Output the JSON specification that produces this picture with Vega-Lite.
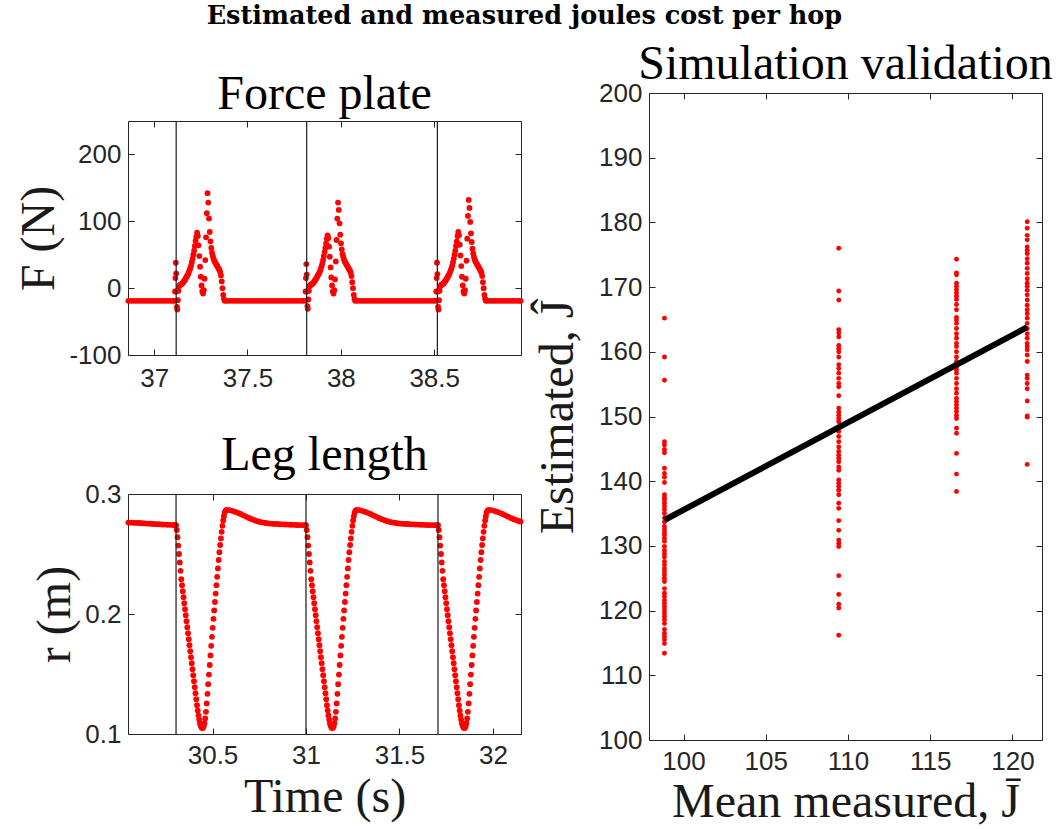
{
"$schema": "https://vega.github.io/schema/vega-lite/v6.json",
"background": "white",
"padding": {"left": 15, "top": 3, "right": 4, "bottom": 0},
"title": {"text": "Estimated and measured joules cost per hop", "font": "DejaVu Serif", "fontSize": 25.5, "fontWeight": "bold", "anchor": "middle", "color": "#000000", "offset": 10, "dx": -10},
"config": {
 "view": {"stroke": "#262626", "strokeWidth": 1},
 "axis": {"grid": false, "domain": false, "labelFont": "Liberation Sans", "labelFontSize": 26, "labelColor": "#262626", "tickColor": "#262626", "tickSize": -6, "tickWidth": 1, "titleFont": "Liberation Serif", "titleFontSize": 48, "titleFontWeight": "normal", "titleColor": "#1a1a1a", "labelExpr": "'' + datum.value"},
 "axisX": {"labelPadding": 16, "titlePadding": 2},
 "axisY": {"labelPadding": 13, "titlePadding": 5},
 "title": {"font": "Liberation Serif", "fontSize": 48, "fontWeight": "normal", "color": "#000000", "anchor": "middle", "offset": 1}
},
"datasets": {
 "spacer": [{"s": 0}],
 "forceContacts": [{"t": 37.118}, {"t": 37.817}, {"t": 38.517}],
 "legContacts": [{"t": 30.305}, {"t": 31.0}, {"t": 31.706}],
 "fit": [{"m": 98.84, "e": 134.0}, {"m": 120.9, "e": 163.8}],
 "force": [
{"t":36.862,"F":-19},{"t":36.877,"F":-19},{"t":36.892,"F":-19},{"t":36.907,"F":-19},{"t":36.922,"F":-19},{"t":36.937,"F":-19},{"t":36.952,"F":-19},{"t":36.967,"F":-19},{"t":36.982,"F":-19},{"t":36.997,"F":-19},{"t":37.012,"F":-19},{"t":37.027,"F":-19},{"t":37.042,"F":-19},{"t":37.057,"F":-19},{"t":37.072,"F":-19},{"t":37.087,"F":-19},{"t":37.100,"F":-19},{"t":37.108,"F":-19},
{"t":37.112,"F":-5},{"t":37.114,"F":15},{"t":37.116,"F":38},{"t":37.118,"F":22},{"t":37.120,"F":-5},{"t":37.122,"F":-28},{"t":37.124,"F":-32},{"t":37.127,"F":-18},{"t":37.130,"F":-4},{"t":37.134,"F":3},{"t":37.138,"F":5},{"t":37.142,"F":5},{"t":37.146,"F":6},{"t":37.150,"F":7},{"t":37.154,"F":8},{"t":37.158,"F":10},{"t":37.162,"F":11},{"t":37.166,"F":13},{"t":37.170,"F":15},{"t":37.174,"F":17},{"t":37.178,"F":19},{"t":37.182,"F":21},{"t":37.186,"F":24},{"t":37.190,"F":27},{"t":37.194,"F":30},{"t":37.198,"F":34},{"t":37.202,"F":39},{"t":37.206,"F":44},{"t":37.210,"F":50},{"t":37.214,"F":56},{"t":37.218,"F":63},{"t":37.222,"F":71},{"t":37.226,"F":77},{"t":37.230,"F":83},{"t":37.234,"F":78},{"t":37.238,"F":64},{"t":37.242,"F":48},{"t":37.246,"F":32},{"t":37.250,"F":17},{"t":37.254,"F":4},{"t":37.258,"F":-5},{"t":37.262,"F":-8},{"t":37.266,"F":-3},{"t":37.270,"F":14},{"t":37.274,"F":42},{"t":37.278,"F":76},{"t":37.282,"F":112},{"t":37.286,"F":142},{"t":37.290,"F":128},{"t":37.294,"F":104},{"t":37.298,"F":84},{"t":37.302,"F":70},{"t":37.306,"F":60},{"t":37.310,"F":53},{"t":37.314,"F":48},{"t":37.318,"F":44},{"t":37.322,"F":41},{"t":37.326,"F":39},{"t":37.330,"F":37},{"t":37.334,"F":35},{"t":37.338,"F":33},{"t":37.342,"F":31},{"t":37.346,"F":29},{"t":37.350,"F":27},{"t":37.354,"F":24},{"t":37.358,"F":19},{"t":37.362,"F":10},{"t":37.366,"F":0},{"t":37.370,"F":-10},{"t":37.374,"F":-16},{"t":37.378,"F":-19},
{"t":37.390,"F":-19},{"t":37.405,"F":-19},{"t":37.420,"F":-19},{"t":37.435,"F":-19},{"t":37.450,"F":-19},{"t":37.465,"F":-19},{"t":37.480,"F":-19},{"t":37.495,"F":-19},{"t":37.510,"F":-19},{"t":37.525,"F":-19},{"t":37.540,"F":-19},{"t":37.555,"F":-19},{"t":37.570,"F":-19},{"t":37.585,"F":-19},{"t":37.600,"F":-19},{"t":37.615,"F":-19},{"t":37.630,"F":-19},{"t":37.645,"F":-19},{"t":37.660,"F":-19},{"t":37.675,"F":-19},{"t":37.690,"F":-19},{"t":37.705,"F":-19},{"t":37.720,"F":-19},{"t":37.735,"F":-19},{"t":37.750,"F":-19},{"t":37.765,"F":-19},{"t":37.780,"F":-19},{"t":37.795,"F":-19},{"t":37.807,"F":-19},
{"t":37.811,"F":-5},{"t":37.813,"F":15},{"t":37.815,"F":36},{"t":37.817,"F":20},{"t":37.819,"F":-5},{"t":37.821,"F":-27},{"t":37.823,"F":-31},{"t":37.826,"F":-17},{"t":37.829,"F":-4},{"t":37.833,"F":3},{"t":37.837,"F":5},{"t":37.841,"F":5},{"t":37.845,"F":6},{"t":37.849,"F":7},{"t":37.853,"F":8},{"t":37.857,"F":10},{"t":37.861,"F":11},{"t":37.865,"F":13},{"t":37.869,"F":15},{"t":37.873,"F":17},{"t":37.877,"F":19},{"t":37.881,"F":21},{"t":37.885,"F":23},{"t":37.889,"F":26},{"t":37.893,"F":29},{"t":37.897,"F":33},{"t":37.901,"F":37},{"t":37.905,"F":42},{"t":37.909,"F":48},{"t":37.913,"F":54},{"t":37.917,"F":60},{"t":37.921,"F":67},{"t":37.925,"F":74},{"t":37.929,"F":79},{"t":37.933,"F":75},{"t":37.937,"F":62},{"t":37.941,"F":47},{"t":37.945,"F":31},{"t":37.949,"F":16},{"t":37.953,"F":4},{"t":37.957,"F":-5},{"t":37.961,"F":-8},{"t":37.965,"F":-3},{"t":37.969,"F":13},{"t":37.973,"F":40},{"t":37.977,"F":72},{"t":37.981,"F":104},{"t":37.985,"F":128},{"t":37.989,"F":117},{"t":37.993,"F":97},{"t":37.997,"F":80},{"t":38.001,"F":67},{"t":38.005,"F":58},{"t":38.009,"F":51},{"t":38.013,"F":47},{"t":38.017,"F":43},{"t":38.021,"F":40},{"t":38.025,"F":38},{"t":38.029,"F":36},{"t":38.033,"F":34},{"t":38.037,"F":32},{"t":38.041,"F":30},{"t":38.045,"F":28},{"t":38.049,"F":26},{"t":38.053,"F":23},{"t":38.057,"F":18},{"t":38.061,"F":9},{"t":38.065,"F":0},{"t":38.069,"F":-10},{"t":38.073,"F":-16},{"t":38.077,"F":-19},
{"t":38.090,"F":-19},{"t":38.105,"F":-19},{"t":38.120,"F":-19},{"t":38.135,"F":-19},{"t":38.150,"F":-19},{"t":38.165,"F":-19},{"t":38.180,"F":-19},{"t":38.195,"F":-19},{"t":38.210,"F":-19},{"t":38.225,"F":-19},{"t":38.240,"F":-19},{"t":38.255,"F":-19},{"t":38.270,"F":-19},{"t":38.285,"F":-19},{"t":38.300,"F":-19},{"t":38.315,"F":-19},{"t":38.330,"F":-19},{"t":38.345,"F":-19},{"t":38.360,"F":-19},{"t":38.375,"F":-19},{"t":38.390,"F":-19},{"t":38.405,"F":-19},{"t":38.420,"F":-19},{"t":38.435,"F":-19},{"t":38.450,"F":-19},{"t":38.465,"F":-19},{"t":38.480,"F":-19},{"t":38.495,"F":-19},{"t":38.507,"F":-19},
{"t":38.511,"F":-5},{"t":38.513,"F":15},{"t":38.515,"F":38},{"t":38.517,"F":21},{"t":38.519,"F":-5},{"t":38.521,"F":-28},{"t":38.523,"F":-32},{"t":38.526,"F":-18},{"t":38.529,"F":-4},{"t":38.533,"F":3},{"t":38.537,"F":5},{"t":38.541,"F":5},{"t":38.545,"F":6},{"t":38.549,"F":7},{"t":38.553,"F":8},{"t":38.557,"F":10},{"t":38.561,"F":11},{"t":38.565,"F":13},{"t":38.569,"F":15},{"t":38.573,"F":17},{"t":38.577,"F":19},{"t":38.581,"F":21},{"t":38.585,"F":24},{"t":38.589,"F":27},{"t":38.593,"F":30},{"t":38.597,"F":34},{"t":38.601,"F":39},{"t":38.605,"F":44},{"t":38.609,"F":50},{"t":38.613,"F":56},{"t":38.617,"F":63},{"t":38.621,"F":70},{"t":38.625,"F":78},{"t":38.629,"F":84},{"t":38.633,"F":79},{"t":38.637,"F":65},{"t":38.641,"F":49},{"t":38.645,"F":33},{"t":38.649,"F":17},{"t":38.653,"F":4},{"t":38.657,"F":-5},{"t":38.661,"F":-8},{"t":38.665,"F":-3},{"t":38.669,"F":14},{"t":38.673,"F":41},{"t":38.677,"F":74},{"t":38.681,"F":108},{"t":38.685,"F":132},{"t":38.689,"F":120},{"t":38.693,"F":99},{"t":38.697,"F":82},{"t":38.701,"F":69},{"t":38.705,"F":59},{"t":38.709,"F":52},{"t":38.713,"F":47},{"t":38.717,"F":43},{"t":38.721,"F":40},{"t":38.725,"F":38},{"t":38.729,"F":36},{"t":38.733,"F":34},{"t":38.737,"F":32},{"t":38.741,"F":30},{"t":38.745,"F":28},{"t":38.749,"F":26},{"t":38.753,"F":23},{"t":38.757,"F":18},{"t":38.761,"F":9},{"t":38.765,"F":0},{"t":38.769,"F":-10},{"t":38.773,"F":-16},{"t":38.777,"F":-19},
{"t":38.790,"F":-19},{"t":38.805,"F":-19},{"t":38.820,"F":-19},{"t":38.835,"F":-19},{"t":38.850,"F":-19},{"t":38.865,"F":-19},{"t":38.880,"F":-19},{"t":38.895,"F":-19},{"t":38.910,"F":-19},{"t":38.925,"F":-19},{"t":38.940,"F":-19},{"t":38.955,"F":-19},{"t":38.963,"F":-19}
 ],
 "leg": [
{"t":30.050,"r":0.2762},{"t":30.065,"r":0.2761},{"t":30.080,"r":0.2760},{"t":30.095,"r":0.2759},{"t":30.110,"r":0.2758},{"t":30.125,"r":0.2756},{"t":30.140,"r":0.2755},{"t":30.155,"r":0.2753},{"t":30.170,"r":0.2752},{"t":30.185,"r":0.2750},{"t":30.200,"r":0.2749},{"t":30.215,"r":0.2748},{"t":30.230,"r":0.2746},{"t":30.245,"r":0.2745},{"t":30.260,"r":0.2744},{"t":30.275,"r":0.2743},{"t":30.290,"r":0.2742},{"t":30.300,"r":0.2741},
{"t":30.305,"r":0.2740},{"t":30.309,"r":0.2700},{"t":30.313,"r":0.2640},{"t":30.317,"r":0.2570},{"t":30.321,"r":0.2500},{"t":30.325,"r":0.2430},{"t":30.329,"r":0.2360},{"t":30.333,"r":0.2290},{"t":30.337,"r":0.2240},{"t":30.341,"r":0.2190},{"t":30.345,"r":0.2140},{"t":30.349,"r":0.2090},{"t":30.353,"r":0.2040},{"t":30.357,"r":0.1990},{"t":30.361,"r":0.1940},{"t":30.365,"r":0.1890},{"t":30.369,"r":0.1840},{"t":30.373,"r":0.1790},{"t":30.377,"r":0.1740},{"t":30.381,"r":0.1690},{"t":30.385,"r":0.1640},{"t":30.389,"r":0.1590},{"t":30.393,"r":0.1540},{"t":30.397,"r":0.1490},{"t":30.401,"r":0.1440},{"t":30.405,"r":0.1390},{"t":30.409,"r":0.1340},{"t":30.413,"r":0.1290},{"t":30.417,"r":0.1240},{"t":30.421,"r":0.1195},{"t":30.425,"r":0.1155},{"t":30.429,"r":0.1120},{"t":30.433,"r":0.1090},{"t":30.437,"r":0.1070},{"t":30.441,"r":0.1055},{"t":30.445,"r":0.1050},{"t":30.449,"r":0.1052},{"t":30.453,"r":0.1065},{"t":30.457,"r":0.1090},{"t":30.461,"r":0.1130},{"t":30.465,"r":0.1185},{"t":30.469,"r":0.1255},{"t":30.473,"r":0.1335},{"t":30.477,"r":0.1415},{"t":30.481,"r":0.1495},{"t":30.485,"r":0.1575},{"t":30.489,"r":0.1655},{"t":30.493,"r":0.1735},{"t":30.497,"r":0.1810},{"t":30.501,"r":0.1885},{"t":30.505,"r":0.1960},{"t":30.509,"r":0.2030},{"t":30.513,"r":0.2100},{"t":30.517,"r":0.2170},{"t":30.521,"r":0.2240},{"t":30.525,"r":0.2310},{"t":30.529,"r":0.2380},{"t":30.533,"r":0.2450},{"t":30.537,"r":0.2515},{"t":30.541,"r":0.2575},{"t":30.545,"r":0.2630},{"t":30.549,"r":0.2685},{"t":30.553,"r":0.2735},{"t":30.557,"r":0.2780},{"t":30.561,"r":0.2815},{"t":30.565,"r":0.2845},{"t":30.570,"r":0.2862},{"t":30.575,"r":0.2868},
{"t":30.590,"r":0.2866},{"t":30.605,"r":0.2860},{"t":30.620,"r":0.2852},{"t":30.635,"r":0.2843},{"t":30.650,"r":0.2833},{"t":30.665,"r":0.2822},{"t":30.680,"r":0.2811},{"t":30.695,"r":0.2800},{"t":30.710,"r":0.2790},{"t":30.725,"r":0.2781},{"t":30.740,"r":0.2773},{"t":30.755,"r":0.2767},{"t":30.770,"r":0.2762},{"t":30.785,"r":0.2758},{"t":30.800,"r":0.2755},{"t":30.815,"r":0.2753},{"t":30.830,"r":0.2751},{"t":30.845,"r":0.2750},{"t":30.860,"r":0.2748},{"t":30.875,"r":0.2747},{"t":30.890,"r":0.2746},{"t":30.905,"r":0.2745},{"t":30.920,"r":0.2744},{"t":30.935,"r":0.2743},{"t":30.950,"r":0.2742},{"t":30.965,"r":0.2741},{"t":30.980,"r":0.2741},{"t":30.995,"r":0.2740},
{"t":31.000,"r":0.2740},{"t":31.004,"r":0.2700},{"t":31.008,"r":0.2640},{"t":31.012,"r":0.2570},{"t":31.016,"r":0.2500},{"t":31.020,"r":0.2430},{"t":31.024,"r":0.2360},{"t":31.028,"r":0.2290},{"t":31.032,"r":0.2240},{"t":31.036,"r":0.2190},{"t":31.040,"r":0.2140},{"t":31.044,"r":0.2090},{"t":31.048,"r":0.2040},{"t":31.052,"r":0.1990},{"t":31.056,"r":0.1940},{"t":31.060,"r":0.1890},{"t":31.064,"r":0.1840},{"t":31.068,"r":0.1790},{"t":31.072,"r":0.1740},{"t":31.076,"r":0.1690},{"t":31.080,"r":0.1640},{"t":31.084,"r":0.1590},{"t":31.088,"r":0.1540},{"t":31.092,"r":0.1490},{"t":31.096,"r":0.1440},{"t":31.100,"r":0.1390},{"t":31.104,"r":0.1340},{"t":31.108,"r":0.1290},{"t":31.112,"r":0.1240},{"t":31.116,"r":0.1195},{"t":31.120,"r":0.1155},{"t":31.124,"r":0.1120},{"t":31.128,"r":0.1090},{"t":31.132,"r":0.1070},{"t":31.136,"r":0.1055},{"t":31.140,"r":0.1050},{"t":31.144,"r":0.1052},{"t":31.148,"r":0.1065},{"t":31.152,"r":0.1090},{"t":31.156,"r":0.1130},{"t":31.160,"r":0.1185},{"t":31.164,"r":0.1255},{"t":31.168,"r":0.1335},{"t":31.172,"r":0.1415},{"t":31.176,"r":0.1495},{"t":31.180,"r":0.1575},{"t":31.184,"r":0.1655},{"t":31.188,"r":0.1735},{"t":31.192,"r":0.1810},{"t":31.196,"r":0.1885},{"t":31.200,"r":0.1960},{"t":31.204,"r":0.2030},{"t":31.208,"r":0.2100},{"t":31.212,"r":0.2170},{"t":31.216,"r":0.2240},{"t":31.220,"r":0.2310},{"t":31.224,"r":0.2380},{"t":31.228,"r":0.2450},{"t":31.232,"r":0.2515},{"t":31.236,"r":0.2575},{"t":31.240,"r":0.2630},{"t":31.244,"r":0.2685},{"t":31.248,"r":0.2735},{"t":31.252,"r":0.2780},{"t":31.256,"r":0.2815},{"t":31.260,"r":0.2845},{"t":31.265,"r":0.2862},{"t":31.270,"r":0.2868},
{"t":31.285,"r":0.2866},{"t":31.300,"r":0.2860},{"t":31.315,"r":0.2852},{"t":31.330,"r":0.2843},{"t":31.345,"r":0.2833},{"t":31.360,"r":0.2822},{"t":31.375,"r":0.2811},{"t":31.390,"r":0.2800},{"t":31.405,"r":0.2790},{"t":31.420,"r":0.2781},{"t":31.435,"r":0.2773},{"t":31.450,"r":0.2767},{"t":31.465,"r":0.2762},{"t":31.480,"r":0.2758},{"t":31.495,"r":0.2755},{"t":31.510,"r":0.2753},{"t":31.525,"r":0.2751},{"t":31.540,"r":0.2750},{"t":31.555,"r":0.2748},{"t":31.570,"r":0.2747},{"t":31.585,"r":0.2746},{"t":31.600,"r":0.2745},{"t":31.615,"r":0.2744},{"t":31.630,"r":0.2743},{"t":31.645,"r":0.2742},{"t":31.660,"r":0.2741},{"t":31.675,"r":0.2741},{"t":31.690,"r":0.2740},{"t":31.702,"r":0.2740},
{"t":31.706,"r":0.2740},{"t":31.710,"r":0.2700},{"t":31.714,"r":0.2640},{"t":31.718,"r":0.2570},{"t":31.722,"r":0.2500},{"t":31.726,"r":0.2430},{"t":31.730,"r":0.2360},{"t":31.734,"r":0.2290},{"t":31.738,"r":0.2240},{"t":31.742,"r":0.2190},{"t":31.746,"r":0.2140},{"t":31.750,"r":0.2090},{"t":31.754,"r":0.2040},{"t":31.758,"r":0.1990},{"t":31.762,"r":0.1940},{"t":31.766,"r":0.1890},{"t":31.770,"r":0.1840},{"t":31.774,"r":0.1790},{"t":31.778,"r":0.1740},{"t":31.782,"r":0.1690},{"t":31.786,"r":0.1640},{"t":31.790,"r":0.1590},{"t":31.794,"r":0.1540},{"t":31.798,"r":0.1490},{"t":31.802,"r":0.1440},{"t":31.806,"r":0.1390},{"t":31.810,"r":0.1340},{"t":31.814,"r":0.1290},{"t":31.818,"r":0.1240},{"t":31.822,"r":0.1195},{"t":31.826,"r":0.1155},{"t":31.830,"r":0.1120},{"t":31.834,"r":0.1090},{"t":31.838,"r":0.1070},{"t":31.842,"r":0.1055},{"t":31.846,"r":0.1050},{"t":31.850,"r":0.1052},{"t":31.854,"r":0.1065},{"t":31.858,"r":0.1090},{"t":31.862,"r":0.1130},{"t":31.866,"r":0.1185},{"t":31.870,"r":0.1255},{"t":31.874,"r":0.1335},{"t":31.878,"r":0.1415},{"t":31.882,"r":0.1495},{"t":31.886,"r":0.1575},{"t":31.890,"r":0.1655},{"t":31.894,"r":0.1735},{"t":31.898,"r":0.1810},{"t":31.902,"r":0.1885},{"t":31.906,"r":0.1960},{"t":31.910,"r":0.2030},{"t":31.914,"r":0.2100},{"t":31.918,"r":0.2170},{"t":31.922,"r":0.2240},{"t":31.926,"r":0.2310},{"t":31.930,"r":0.2380},{"t":31.934,"r":0.2450},{"t":31.938,"r":0.2515},{"t":31.942,"r":0.2575},{"t":31.946,"r":0.2630},{"t":31.950,"r":0.2685},{"t":31.954,"r":0.2735},{"t":31.958,"r":0.2780},{"t":31.962,"r":0.2815},{"t":31.966,"r":0.2845},{"t":31.971,"r":0.2862},{"t":31.976,"r":0.2868},
{"t":31.991,"r":0.2866},{"t":32.006,"r":0.2860},{"t":32.021,"r":0.2852},{"t":32.036,"r":0.2843},{"t":32.051,"r":0.2833},{"t":32.066,"r":0.2822},{"t":32.081,"r":0.2811},{"t":32.096,"r":0.2800},{"t":32.111,"r":0.2790},{"t":32.126,"r":0.2781},{"t":32.141,"r":0.2773},{"t":32.148,"r":0.2770}
 ],
 "sim": [
{"m":98.84,"e":165.2},{"m":98.84,"e":159.2},{"m":98.84,"e":155.6},{"m":98.84,"e":146.1},{"m":98.84,"e":145.6},{"m":98.84,"e":144.9},{"m":98.84,"e":144.4},{"m":98.84,"e":142.0},{"m":98.84,"e":141.2},{"m":98.84,"e":140.6},{"m":98.84,"e":139.8},{"m":98.84,"e":137.9},{"m":98.84,"e":137.5},{"m":98.84,"e":137.1},{"m":98.84,"e":136.6},{"m":98.84,"e":136.1},{"m":98.84,"e":135.6},{"m":98.84,"e":135.0},{"m":98.84,"e":134.3},{"m":98.84,"e":133.7},{"m":98.84,"e":133.0},{"m":98.84,"e":132.5},{"m":98.84,"e":132.0},{"m":98.84,"e":131.7},{"m":98.84,"e":131.2},{"m":98.84,"e":130.7},{"m":98.84,"e":129.9},{"m":98.84,"e":129.3},{"m":98.84,"e":128.8},{"m":98.84,"e":128.3},{"m":98.84,"e":127.6},{"m":98.84,"e":127.1},{"m":98.84,"e":126.5},{"m":98.84,"e":126.0},{"m":98.84,"e":125.5},{"m":98.84,"e":125.0},{"m":98.84,"e":124.5},{"m":98.84,"e":123.4},{"m":98.84,"e":122.7},{"m":98.84,"e":122.2},{"m":98.84,"e":121.6},{"m":98.84,"e":121.1},{"m":98.84,"e":120.6},{"m":98.84,"e":120.1},{"m":98.84,"e":119.6},{"m":98.84,"e":119.1},{"m":98.84,"e":118.6},{"m":98.84,"e":118.0},{"m":98.84,"e":117.1},{"m":98.84,"e":116.5},{"m":98.84,"e":116.0},{"m":98.84,"e":115.5},{"m":98.84,"e":114.9},{"m":98.84,"e":113.4},
{"m":109.44,"e":176.0},{"m":109.44,"e":169.4},{"m":109.44,"e":168.0},{"m":109.44,"e":163.4},{"m":109.44,"e":162.9},{"m":109.44,"e":162.3},{"m":109.44,"e":161.0},{"m":109.44,"e":160.5},{"m":109.44,"e":160.0},{"m":109.44,"e":159.2},{"m":109.44,"e":158.0},{"m":109.44,"e":157.4},{"m":109.44,"e":156.7},{"m":109.44,"e":155.9},{"m":109.44,"e":155.1},{"m":109.44,"e":154.6},{"m":109.44,"e":153.2},{"m":109.44,"e":151.3},{"m":109.44,"e":150.7},{"m":109.44,"e":150.2},{"m":109.44,"e":149.7},{"m":109.44,"e":149.2},{"m":109.44,"e":148.4},{"m":109.44,"e":147.7},{"m":109.44,"e":146.9},{"m":109.44,"e":146.1},{"m":109.44,"e":145.3},{"m":109.44,"e":144.6},{"m":109.44,"e":144.0},{"m":109.44,"e":143.5},{"m":109.44,"e":143.0},{"m":109.44,"e":142.2},{"m":109.44,"e":141.7},{"m":109.44,"e":140.2},{"m":109.44,"e":139.7},{"m":109.44,"e":139.2},{"m":109.44,"e":138.6},{"m":109.44,"e":137.9},{"m":109.44,"e":136.6},{"m":109.44,"e":135.8},{"m":109.44,"e":133.9},{"m":109.44,"e":132.4},{"m":109.44,"e":130.9},{"m":109.44,"e":130.4},{"m":109.44,"e":129.9},{"m":109.44,"e":125.4},{"m":109.44,"e":122.5},{"m":109.44,"e":121.0},{"m":109.44,"e":120.4},{"m":109.44,"e":116.2},
{"m":116.6,"e":174.3},{"m":116.6,"e":172.2},{"m":116.6,"e":171.9},{"m":116.6,"e":170.6},{"m":116.6,"e":170.1},{"m":116.6,"e":169.6},{"m":116.6,"e":169.1},{"m":116.6,"e":168.6},{"m":116.6,"e":168.1},{"m":116.6,"e":167.3},{"m":116.6,"e":166.5},{"m":116.6,"e":165.3},{"m":116.6,"e":164.9},{"m":116.6,"e":164.4},{"m":116.6,"e":163.6},{"m":116.6,"e":162.8},{"m":116.6,"e":162.1},{"m":116.6,"e":161.3},{"m":116.6,"e":160.8},{"m":116.6,"e":160.0},{"m":116.6,"e":159.2},{"m":116.6,"e":158.5},{"m":116.6,"e":157.7},{"m":116.6,"e":157.2},{"m":116.6,"e":156.7},{"m":116.6,"e":155.9},{"m":116.6,"e":155.1},{"m":116.6,"e":154.3},{"m":116.6,"e":153.6},{"m":116.6,"e":152.8},{"m":116.6,"e":152.3},{"m":116.6,"e":151.8},{"m":116.6,"e":151.3},{"m":116.6,"e":150.8},{"m":116.6,"e":150.2},{"m":116.6,"e":149.7},{"m":116.6,"e":148.2},{"m":116.6,"e":147.4},{"m":116.6,"e":144.3},{"m":116.6,"e":141.1},{"m":116.6,"e":138.4},
{"m":120.9,"e":180.1},{"m":120.9,"e":179.1},{"m":120.9,"e":178.0},{"m":120.9,"e":177.3},{"m":120.9,"e":176.2},{"m":120.9,"e":175.7},{"m":120.9,"e":175.2},{"m":120.9,"e":174.4},{"m":120.9,"e":173.7},{"m":120.9,"e":172.9},{"m":120.9,"e":172.1},{"m":120.9,"e":171.3},{"m":120.9,"e":170.6},{"m":120.9,"e":170.1},{"m":120.9,"e":169.5},{"m":120.9,"e":168.8},{"m":120.9,"e":168.0},{"m":120.9,"e":167.2},{"m":120.9,"e":166.5},{"m":120.9,"e":165.9},{"m":120.9,"e":165.2},{"m":120.9,"e":164.4},{"m":120.9,"e":163.6},{"m":120.9,"e":162.8},{"m":120.9,"e":162.1},{"m":120.9,"e":161.3},{"m":120.9,"e":160.8},{"m":120.9,"e":160.3},{"m":120.9,"e":159.5},{"m":120.9,"e":158.5},{"m":120.9,"e":156.4},{"m":120.9,"e":155.9},{"m":120.9,"e":155.1},{"m":120.9,"e":154.3},{"m":120.9,"e":152.4},{"m":120.9,"e":150.1},{"m":120.9,"e":149.9},{"m":120.9,"e":142.6}
 ]
},
"spacing": 9,
"hconcat": [
 {
  "spacing": 0,
  "vconcat": [
   {"width": 393, "height": 31, "view": {"stroke": null}, "data": {"name": "spacer"}, "mark": {"type": "point", "opacity": 0, "size": 0}, "encoding": {}},
   {
    "spacing": 39,
    "vconcat": [
     {
      "title": {"text": "Force plate", "frame": "group"},
      "width": 393, "height": 234,
      "resolve": {"axis": {"x": "independent", "y": "independent"}},
      "layer": [
       {"data": {"name": "force"}, "mark": {"type": "circle", "color": "#ff0000", "opacity": 1, "size": 34},
        "encoding": {
         "x": {"field": "t", "type": "quantitative", "scale": {"domain": [36.86, 38.965], "nice": false, "zero": false}, "axis": {"orient": "bottom", "values": [37, 37.5, 38, 38.5], "title": null}},
         "y": {"field": "F", "type": "quantitative", "scale": {"domain": [-100, 250], "nice": false, "zero": false}, "axis": {"orient": "left", "values": [-100, 0, 100, 200], "title": "F (N)"}}}},
       {"data": {"name": "forceContacts"}, "mark": {"type": "rule", "color": "#1a1a1a", "strokeWidth": 1.2},
        "encoding": {"x": {"field": "t", "type": "quantitative", "axis": {"orient": "top", "values": [37, 37.5, 38, 38.5], "labels": false, "title": null}}}},
       {"data": {"name": "forceContacts"}, "mark": {"type": "point", "opacity": 0},
        "encoding": {"y": {"datum": 0, "type": "quantitative", "axis": {"orient": "right", "values": [-100, 0, 100, 200], "labels": false, "title": null}}}}
      ]
     },
     {
      "title": {"text": "Leg length", "frame": "group"},
      "width": 393, "height": 240,
      "resolve": {"axis": {"x": "independent", "y": "independent"}},
      "layer": [
       {"data": {"name": "leg"}, "mark": {"type": "circle", "color": "#ff0000", "opacity": 1, "size": 34},
        "encoding": {
         "x": {"field": "t", "type": "quantitative", "scale": {"domain": [30.048, 32.15], "nice": false, "zero": false}, "axis": {"orient": "bottom", "values": [30.5, 31, 31.5, 32], "title": "Time (s)", "labelPadding": 14, "titlePadding": 5}},
         "y": {"field": "r", "type": "quantitative", "scale": {"domain": [0.1, 0.3], "nice": false, "zero": false}, "axis": {"orient": "left", "values": [0.1, 0.2, 0.3], "title": "r (m)"}}}},
       {"data": {"name": "legContacts"}, "mark": {"type": "rule", "color": "#1a1a1a", "strokeWidth": 1.2},
        "encoding": {"x": {"field": "t", "type": "quantitative", "axis": {"orient": "top", "values": [30.5, 31, 31.5, 32], "labels": false, "title": null}}}},
       {"data": {"name": "legContacts"}, "mark": {"type": "point", "opacity": 0},
        "encoding": {"y": {"datum": 0.2, "type": "quantitative", "axis": {"orient": "right", "values": [0.1, 0.2, 0.3], "labels": false, "title": null}}}}
      ]
     }
    ]
   }
  ]
 },
 {
  "spacing": 0,
  "vconcat": [
   {"width": 393, "height": 1, "view": {"stroke": null}, "data": {"name": "spacer"}, "mark": {"type": "point", "opacity": 0, "size": 0}, "encoding": {}},
   {
    "title": {"text": "Simulation validation", "frame": "group", "offset": -9},
    "width": 393, "height": 647,
    "resolve": {"axis": {"x": "independent", "y": "independent"}},
    "layer": [
     {"data": {"name": "sim"}, "mark": {"type": "circle", "color": "#ff0000", "opacity": 1, "size": 24},
      "encoding": {
       "x": {"field": "m", "type": "quantitative", "scale": {"domain": [97.9, 121.8], "nice": false, "zero": false}, "axis": {"orient": "bottom", "values": [100, 105, 110, 115, 120], "title": "Mean measured, J̄", "labelPadding": 14, "titlePadding": 4}},
       "y": {"field": "e", "type": "quantitative", "scale": {"domain": [100, 200], "nice": false, "zero": false}, "axis": {"orient": "left", "values": [100, 110, 120, 130, 140, 150, 160, 170, 180, 190, 200], "title": "Estimated, Ĵ", "titlePadding": 16}}}},
     {"data": {"name": "fit"}, "mark": {"type": "line", "color": "#000000", "strokeWidth": 6},
      "encoding": {
       "x": {"field": "m", "type": "quantitative", "axis": {"orient": "top", "values": [100, 105, 110, 115, 120], "labels": false, "title": null}},
       "y": {"field": "e", "type": "quantitative", "axis": {"orient": "right", "values": [100, 110, 120, 130, 140, 150, 160, 170, 180, 190, 200], "labels": false, "title": null}}}}
    ]
   }
  ]
 }
]
}
